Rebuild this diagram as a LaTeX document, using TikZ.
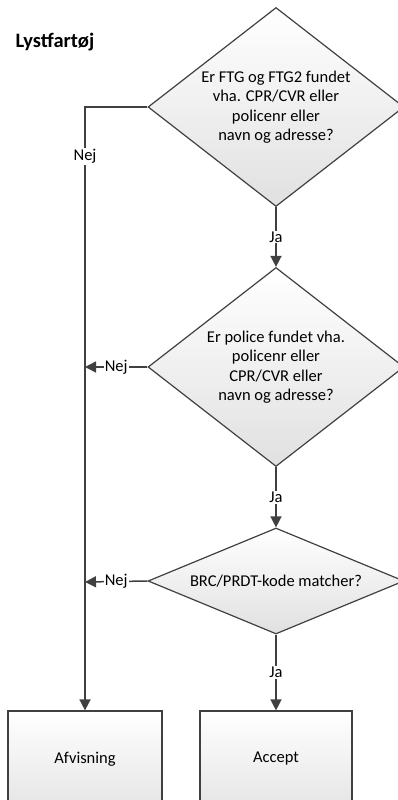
\documentclass[tikz,border=0pt]{standalone}
\usepackage{fontspec}
\setmainfont{Carlito}
\usetikzlibrary{shapes.geometric,arrows.meta}
\begin{document}
\begin{tikzpicture}[x=1pt,y=-1pt]
\tikzstyle{txt} = [font=\fontsize{16.5}{19.5}\selectfont];
\tikzstyle{dec} = [diamond,draw=black!75,line width=1.2pt,top color=white,bottom color=black!12,inner sep=0pt,minimum width=256pt,txt,align=center];
\tikzstyle{box} = [rectangle,draw=black!75,line width=1.2pt,top color=white,bottom color=black!10,minimum width=154pt,minimum height=96pt,txt];
\tikzstyle{flow} = [draw=black!75,line width=1.5pt,-{Triangle[length=11pt,width=11pt]}];
\tikzstyle{lbl} = [fill=white,inner sep=1pt,txt];
\useasboundingbox (0,0) rectangle (398,800);
\node [font=\fontsize{20.5}{24}\selectfont\bfseries,anchor=west] (t) at (12,42) {Lystfartøj};
\node [dec,minimum height=199pt,aspect=1.29] (v1) at (276,107) {Er FTG og FTG2 fundet\\vha. CPR/CVR eller\\policenr eller\\navn og adresse?};
\node [dec,minimum height=199pt,aspect=1.29] (v2) at (276,367) {Er police fundet vha.\\policenr eller\\CPR/CVR eller\\navn og adresse?};
\node [dec,minimum height=106pt,aspect=2.4] (v3) at (276,581) {BRC/PRDT-kode matcher?};
\node [box] (v4) at (85,759) {Afvisning};
\node [box,minimum width=152pt] (v5) at (276,759) {Accept};
\coordinate (c1) at (85,367);
\coordinate (c2) at (85,582);
\draw [flow] (v1.west) -| node [lbl,pos=0.541] {Nej} (v4.north);
\draw [flow] (v1.south) -- node [lbl] {Ja} (v2.north);
\draw [flow] (v2.west) -- node [lbl] {Nej} (c1);
\draw [flow] (v2.south) -- node [lbl] {Ja} (v3.north);
\draw [flow] (v3.west) -- node [lbl] {Nej} (c2);
\draw [flow] (v3.south) -- node [lbl] {Ja} (v5.north);
\end{tikzpicture}
\end{document}
